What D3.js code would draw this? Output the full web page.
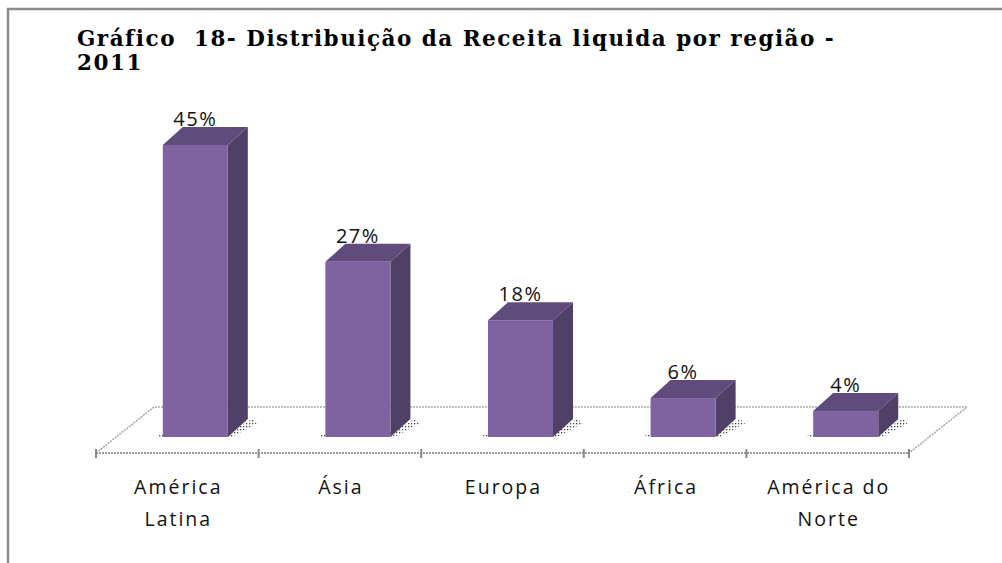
<!DOCTYPE html>
<html>
<head>
<meta charset="utf-8">
<script src="https://cdn.jsdelivr.net/npm/d3@7"></script>
<style>
  body { margin: 0; background: #fff; }
  svg { display: block; }
</style>
</head>
<body>
<svg id="plot" width="1002" height="563"></svg>
<script>
// data
var categories = [["América", "Latina"], ["Ásia"], ["Europa"], ["África"], ["América do", "Norte"]];
var values = [45, 27, 18, 6, 4];
var valueLabels = ["45%", "27%", "18%", "6%", "4%"];
var titleLines = ["Gráfico  18- Distribuição da Receita liquida por região -", "2011"];

var svg = d3.select('#plot');

// floor / depth settings
var floorFront = 453;
var floorDx = 58, floorDy = -46;
var barDx = 20, barDy = -18;
var barFrontShift = 18;   // how far the bar front sits behind the floor front edge
var barBase = 437;

var xScale = d3.scaleBand()
  .domain(d3.range(categories.length))
  .range([96, 909])
  .paddingInner(0.6)
  .paddingOuter(0.3);

var yScale = d3.scaleLinear()
  .domain([0, 45])
  .range([barBase, 145]);

var step = xScale.step();
var x0 = xScale.range()[0], x1 = xScale.range()[1];

// frame (top and left only)
svg.append('path')
  .attr('d', 'M8,563 V9 H1002')
  .attr('fill', 'none')
  .attr('stroke', '#8c8c8c')
  .attr('stroke-width', 2.5);

// title
svg.append('text')
  .attr('font-family', 'DejaVu Serif, serif')
  .attr('font-weight', 'bold')
  .attr('font-size', 21.5)
  .attr('letter-spacing', 1.5)
  .attr('fill', '#000')
  .attr('xml:space', 'preserve')
  .selectAll('tspan')
  .data(titleLines)
  .enter()
  .append('tspan')
  .attr('x', 77)
  .attr('y', function (d, i) { return 46 + i * 24; })
  .text(function (d) { return d; });

// dotted pattern for the shadows
var defs = svg.append('defs');
defs.append('pattern')
  .attr('id', 'dots')
  .attr('width', 3).attr('height', 3)
  .attr('patternUnits', 'userSpaceOnUse')
  .append('rect')
  .attr('width', 1.3).attr('height', 1.3)
  .attr('fill', '#222');

// floor
var floor = svg.append('g').attr('class', 'floor');
floor.append('path')
  .attr('d', 'M' + x0 + ',' + floorFront +
    ' L' + (x0 + floorDx) + ',' + (floorFront + floorDy) +
    ' H' + (x1 + floorDx) +
    ' L' + x1 + ',' + floorFront)
  .attr('fill', 'none')
  .attr('stroke', '#a8a8a8')
  .attr('stroke-width', 1.6)
  .attr('stroke-dasharray', '2,1');

floor.append('line')
  .attr('x1', x0).attr('x2', x1)
  .attr('y1', floorFront).attr('y2', floorFront)
  .attr('stroke', '#999')
  .attr('stroke-width', 2.2)
  .attr('stroke-dasharray', '2,1');

// tick marks at category boundaries
floor.selectAll('.tick')
  .data(d3.range(categories.length + 1))
  .enter()
  .append('line')
  .attr('class', 'tick')
  .attr('x1', function (d) { return x0 + d * step; })
  .attr('x2', function (d) { return x0 + d * step; })
  .attr('y1', floorFront - 4)
  .attr('y2', floorFront + 5)
  .attr('stroke', '#888')
  .attr('stroke-width', 2);

// bars
var bars = svg.selectAll('.bar')
  .data(values)
  .enter()
  .append('g')
  .attr('class', 'bar');

function barLeft(i) { return xScale(i) + barFrontShift; }

// shadows
bars.append('path')
  .attr('d', function (d, i) {
    var l = barLeft(i) - 6, r = barLeft(i) + xScale.bandwidth() + 2;
    return 'M' + l + ',' + (barBase - 2) + ' L' + (l + 4) + ',' + (barBase + 1) +
      ' H' + r + ' L' + (r + barDx + 8) + ',' + (barBase - 14) + ' L' + (r + barDx + 2) + ',' + (barBase - 18) +
      ' L' + (r + 2) + ',' + (barBase - 6) + ' Z';
  })
  .attr('fill', 'url(#dots)')
  .attr('opacity', 0.85);

// side face
bars.append('path')
  .attr('d', function (d, i) {
    var r = barLeft(i) + xScale.bandwidth();
    var t = yScale(d);
    return 'M' + r + ',' + barBase + ' L' + (r + barDx) + ',' + (barBase + barDy) +
      ' V' + (t + barDy) + ' L' + r + ',' + t + ' Z';
  })
  .attr('fill', '#503f66');

// top face
bars.append('path')
  .attr('d', function (d, i) {
    var l = barLeft(i), r = l + xScale.bandwidth();
    var t = yScale(d);
    return 'M' + l + ',' + t + ' L' + (l + barDx) + ',' + (t + barDy) +
      ' H' + (r + barDx) + ' L' + r + ',' + t + ' Z';
  })
  .attr('fill', '#5f4b7c');

// front face
bars.append('rect')
  .attr('x', function (d, i) { return barLeft(i); })
  .attr('y', function (d) { return yScale(d); })
  .attr('width', xScale.bandwidth())
  .attr('height', function (d) { return barBase - yScale(d); })
  .attr('fill', '#7e63a0');

// value labels
bars.append('text')
  .attr('x', function (d, i) { return barLeft(i) + xScale.bandwidth() / 2; })
  .attr('y', function (d) { return yScale(d) + barDy - 1; })
  .attr('text-anchor', 'middle')
  .attr('font-family', 'Open Sans, sans-serif')
  .attr('font-size', 20)
  .attr('letter-spacing', 1.5)
  .attr('fill', '#111')
  .text(function (d, i) { return valueLabels[i]; });

// category labels
svg.append('g')
  .selectAll('text')
  .data(categories)
  .enter()
  .append('text')
  .attr('text-anchor', 'middle')
  .attr('font-family', 'Open Sans, sans-serif')
  .attr('font-size', 19.5)
  .attr('letter-spacing', 2)
  .attr('fill', '#111')
  .each(function (d, i) {
    var cx = x0 + (i + 0.5) * step + 1;
    d3.select(this).selectAll('tspan')
      .data(d)
      .enter()
      .append('tspan')
      .attr('x', cx)
      .attr('y', function (s, j) { return 494 + j * 32; })
      .text(function (s) { return s; });
  });
</script>
</body>
</html>
